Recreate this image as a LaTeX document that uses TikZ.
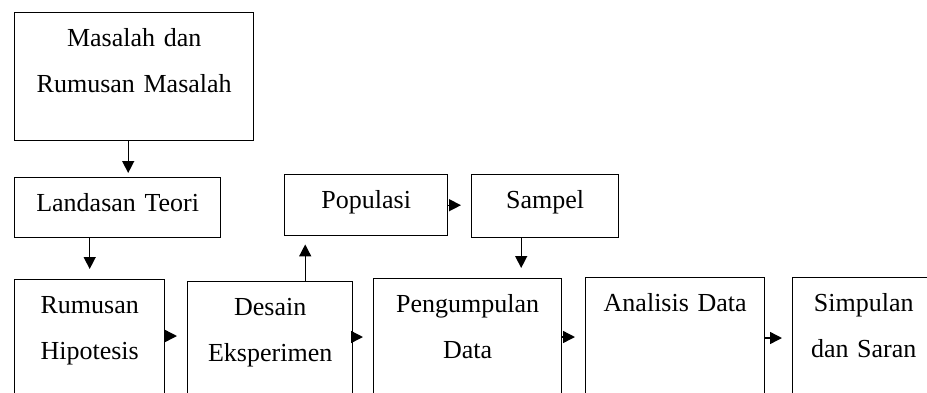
\documentclass[tikz,border=0pt]{standalone}
\usepackage{fontspec}
\setmainfont{Liberation Serif}
\usetikzlibrary{arrows.meta}

\begin{document}
\begin{tikzpicture}[x=1pt, y=-1pt, line width=1.4pt,
  box/.style={draw, anchor=north west, align=center, inner xsep=0pt, inner ysep=16pt,
    text height=18pt, font=\fontsize{26}{46}\selectfont},
  arr/.style={-{Triangle[length=12pt,width=12pt]}, shorten >=10pt}]
  \useasboundingbox (0,0) rectangle (927,392);
  \clip (0,0) rectangle (927,392);
  \node[box, text width=239pt, text depth=78pt] (msl) at (14,12) {Masalah dan\\Rumusan Masalah};
  \node[box, text width=206pt, text depth=10pt] (teori) at (14,177) {Landasan Teori};
  \node[box, text width=163pt, text depth=11pt] (pop) at (284,174) {Populasi};
  \node[box, text width=147pt, text depth=13pt] (smp) at (471,174) {Sampel};
  \node[box, text width=150pt, text depth=200pt] (hip) at (14,279) {Rumusan\\Hipotesis};
  \node[box, text width=165pt, text depth=200pt] (des) at (187,281) {Desain\\Eksperimen};
  \node[box, text width=188pt, text depth=200pt] (kum) at (373,278) {Pengumpulan\\Data};
  \node[box, text width=179pt, text depth=200pt] (ana) at (585,277) {Analisis Data};
  \node[box, text width=142pt, text depth=200pt] (sim) at (792,277) {Simpulan\\dan Saran};
  \draw[arr, shorten >=4pt] ([xshift=-6pt]msl.south) -- ([xshift=-6pt]msl.south |- teori.north);
  \draw[arr] (hip.north |- teori.south) -- (hip.north);
  \draw[arr] ([yshift=-57pt]hip.north east) -- ([yshift=-57pt]hip.north east -| des.west);
  \draw[arr] ([yshift=-56pt]des.north east) -- ([yshift=-56pt]des.north east -| kum.west);
  \draw[arr] ([yshift=-59pt]kum.north east) -- ([yshift=-59pt]kum.north east -| ana.west);
  \draw[arr] ([yshift=-61pt]ana.north east) -- ([yshift=-61pt]ana.north east -| sim.west);
  \draw[arr, shorten >=8pt] ([xshift=35pt]des.north) -- ([xshift=35pt]des.north |- pop.south);
  \draw[arr] (pop.east) -- (pop.east -| smp.west);
  \draw[arr] ([xshift=-24pt]smp.south) -- ([xshift=-24pt]smp.south |- kum.north);
\end{tikzpicture}
\end{document}
